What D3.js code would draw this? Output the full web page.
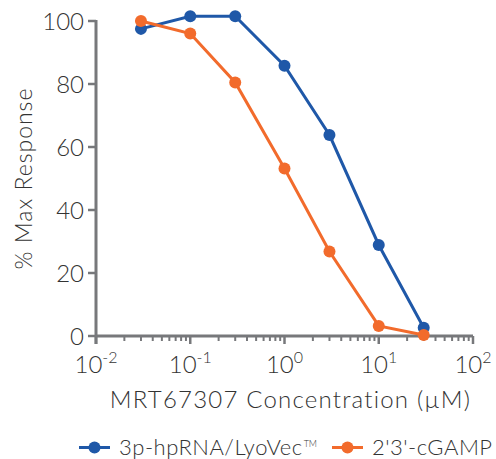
<!DOCTYPE html>
<html>
<head>
<meta charset="utf-8">
<script src="https://d3js.org/d3.v7.min.js"></script>
<style>
  body { margin: 0; background: #fff; }
  text { font-family: "Lato Light", Lato, "Open Sans", sans-serif; font-weight: 300; fill: #333; }
</style>
</head>
<body>
<div id="visualization"></div>
<script>
// concentrations (uM)
const conc = [0.03, 0.1, 0.3, 1, 3, 10, 30];
const hpRNA = [97.5, 101.5, 101.5, 85.8, 63.8, 28.9, 2.6];
const cGAMP = [100, 96, 80.5, 53.2, 26.8, 3.2, 0.3];
const seriesNames = ["3p-hpRNA/LyoVec", "2'3'-cGAMP"];
const seriesColors = ["#1f58a8", "#f26b2c"];
const yTicks = [0, 20, 40, 60, 80, 100];
const xTicks = [-2, -1, 0, 1, 2];

const width = 496, height = 459;
const margin = { top: 21, right: 23, bottom: 123, left: 96 };
const axisColor = "#77787b";

const svg = d3.select("#visualization")
    .append("svg")
        .attr("width", width)
        .attr("height", height);

const x = d3.scaleLog()
    .domain([0.01, 100])
    .range([margin.left, width - margin.right]);

const y = d3.scaleLinear()
    .domain([0, 100])
    .range([height - margin.bottom, margin.top]);

const y0 = y(0);

// x axis: line + major + minor ticks
const gx = svg.append("g");
gx.append("line")
    .attr("x1", x(0.01)).attr("x2", x(100))
    .attr("y1", y0).attr("y2", y0)
    .attr("stroke", axisColor).attr("stroke-width", 3);

let minor = [];
for (let e = -2; e < 2; e++) {
    for (let m = 2; m <= 9; m++) minor.push(m * Math.pow(10, e));
}
gx.selectAll(".minor")
    .data(minor)
    .join("line")
        .attr("x1", d => x(d)).attr("x2", d => x(d))
        .attr("y1", y0).attr("y2", y0 + 5)
        .attr("stroke", axisColor).attr("stroke-width", 2);

gx.selectAll(".major")
    .data(xTicks)
    .join("line")
        .attr("x1", d => x(Math.pow(10, d))).attr("x2", d => x(Math.pow(10, d)))
        .attr("y1", y0).attr("y2", y0 + 8)
        .attr("stroke", axisColor).attr("stroke-width", 2.5);

const xl = gx.selectAll(".xlab")
    .data(xTicks)
    .join("text")
        .attr("x", d => x(Math.pow(10, d)))
        .attr("y", y0 + 37)
        .attr("text-anchor", "middle")
        .style("font-size", "24px");
xl.append("tspan").text("10");
xl.append("tspan")
    .attr("dy", -10)
    .style("font-size", "16px")
    .text(d => d < 0 ? "-" + Math.abs(d) : d);

// y axis
const gy = svg.append("g");
gy.append("line")
    .attr("x1", margin.left).attr("x2", margin.left)
    .attr("y1", y(100) - 1).attr("y2", y0 + 8)
    .attr("stroke", axisColor).attr("stroke-width", 3);

gy.selectAll(".ytick")
    .data(yTicks)
    .join("line")
        .attr("x1", margin.left - 8).attr("x2", margin.left)
        .attr("y1", d => y(d)).attr("y2", d => y(d))
        .attr("stroke", axisColor).attr("stroke-width", 2.5);

gy.selectAll(".ylab")
    .data(yTicks)
    .join("text")
        .attr("x", margin.left - 12)
        .attr("y", d => y(d))
        .attr("dy", "0.36em")
        .attr("text-anchor", "end")
        .style("font-size", "24px")
        .text(d => d);

// axis titles
svg.append("text")
    .attr("transform", `translate(32, ${(y(0) + y(100)) / 2}) rotate(-90)`)
    .attr("text-anchor", "middle")
    .style("font-size", "23px")
    .style("letter-spacing", "1px")
    .text("% Max Response");

svg.append("text")
    .attr("x", (x(0.01) + x(100)) / 2 + 6)
    .attr("y", 408)
    .attr("text-anchor", "middle")
    .style("font-size", "24px")
    .style("letter-spacing", "1.2px")
    .text("MRT67307 Concentration (\u00b5M)");

// series
const series = [hpRNA, cGAMP];
const line = d3.line()
    .x((d, i) => x(conc[i]))
    .y(d => y(d));

series.forEach((vals, s) => {
    svg.append("path")
        .datum(vals)
        .attr("d", line)
        .attr("fill", "none")
        .attr("stroke", seriesColors[s])
        .attr("stroke-width", 3);
    svg.selectAll(".pt" + s)
        .data(vals)
        .join("circle")
            .attr("cx", (d, i) => x(conc[i]))
            .attr("cy", d => y(d))
            .attr("r", 6)
            .attr("fill", seriesColors[s]);
});

// legend
const legendY = 447.5;
const legendX = [79, 332];
const lg = svg.selectAll(".legend")
    .data(seriesNames)
    .join("g")
        .attr("transform", (d, i) => `translate(${legendX[i]}, ${legendY})`);
lg.append("line")
    .attr("x1", 0).attr("x2", 31)
    .attr("stroke", (d, i) => seriesColors[i])
    .attr("stroke-width", 3);
lg.append("circle")
    .attr("cx", 15.5).attr("r", 6)
    .attr("fill", (d, i) => seriesColors[i]);
const lt = lg.append("text")
    .attr("x", 40)
    .attr("y", 7)
    .style("font-size", "22px")
    .style("letter-spacing", "0.5px");
lt.append("tspan").text(d => d);
lt.filter((d, i) => i === 0)
    .append("tspan")
    .attr("dy", -8)
    .attr("dx", 1)
    .style("font-size", "9px")
    .style("letter-spacing", "0px")
    .text("TM");
</script>
</body>
</html>
